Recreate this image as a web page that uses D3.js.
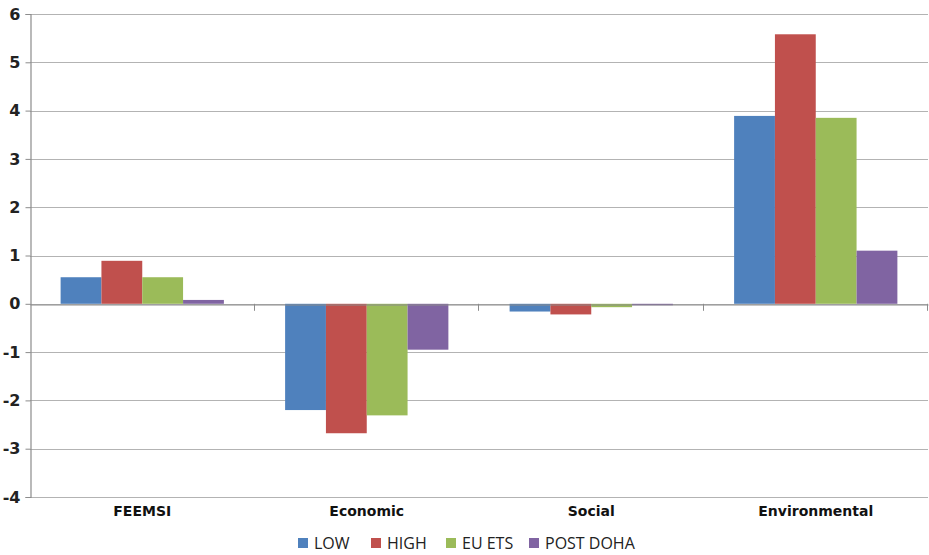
<!DOCTYPE html>
<meta charset="utf-8">
<style>
body { margin: 0; background: #fff; }
svg { display: block; }
.ytick text { font: bold 16px "DejaVu Sans", sans-serif; fill: #222; }
.cat text { font: bold 14px "DejaVu Sans", sans-serif; fill: #111; }
.legend text { font: 16px "Open Sans", sans-serif; fill: #222; }
</style>
<html>
  <head>
    <script src="https://cdn.jsdelivr.net/npm/d3@7"></script>
  </head>
  <body>
    <script>
var categories = ["FEEMSI", "Economic", "Social", "Environmental"];
var seriesNames = ["LOW", "HIGH", "EU ETS", "POST DOHA"];
var low      = [0.55, -2.2, -0.16, 3.89];
var high     = [0.89, -2.68, -0.22, 5.58];
var euEts    = [0.55, -2.31, -0.07, 3.85];
var postDoha = [0.08, -0.95, -0.03, 1.10];
var yTicks = [-4, -3, -2, -1, 0, 1, 2, 3, 4, 5, 6];
var colors = ["#4f81bd", "#c0504d", "#9bbb59", "#8064a2"];

var seriesValues = [low, high, euEts, postDoha];

// plot area (window.top is reserved, so not "top")
var width = 929, height = 555
  , plotL = 30, plotR = 928, plotT = 14, plotB = 497;

var svg = d3.select("body").append("svg")
    .attr("width", width)
    .attr("height", height);

var x = d3.scaleBand().domain(categories).range([plotL, plotR]);
var y = d3.scaleLinear().domain([-4, 6]).range([plotB, plotT]);

// bars sit in the middle of each band, 150% gap like excel
var bw = x.bandwidth() / 5.5;
var inner = d3.scaleBand().domain(seriesNames)
    .range([bw * 0.75, bw * 4.75]);

// gridlines
svg.append("g").selectAll("line")
    .data(yTicks)
  .enter().append("line")
    .attr("x1", plotL).attr("x2", plotR)
    .attr("y1", function(d) { return Math.round(y(d)) + 0.5; })
    .attr("y2", function(d) { return Math.round(y(d)) + 0.5; })
    .attr("stroke", "#b3b3b3")
    .attr("stroke-width", 1.2);

// bars
var groups = svg.append("g").selectAll("g")
    .data(seriesNames)
  .enter().append("g")
    .attr("fill", function(d, i) { return colors[i]; });

groups.selectAll("rect")
    .data(function(d, i) {
      return categories.map(function(c, j) {
        return { cat: c, s: d, v: seriesValues[i][j] };
      });
    })
  .enter().append("rect")
    .attr("x", function(d) { return x(d.cat) + inner(d.s); })
    .attr("width", inner.bandwidth())
    .attr("y", function(d) { return y(Math.max(0, d.v)); })
    .attr("height", function(d) { return Math.abs(y(d.v) - y(0)); });

// zero axis with category dividers
var xAxis = d3.axisBottom(x).tickSize(0).tickFormat("");
svg.append("g")
    .attr("transform", "translate(0," + (Math.round(y(0)) + 0.5) + ")")
    .call(xAxis)
    .call(function(g) { g.select(".domain").attr("stroke", "#8c8c8c").attr("stroke-width", 1.2); });

var bounds = categories.map(function(c) { return x(c) + x.bandwidth(); });
svg.append("g").selectAll("line")
    .data(bounds)
  .enter().append("line")
    .attr("x1", function(d) { return Math.round(d) - 0.5; })
    .attr("x2", function(d) { return Math.round(d) - 0.5; })
    .attr("y1", y(0)).attr("y2", y(0) + 7)
    .attr("stroke", "#8c8c8c");

// y axis, plain hyphen for negatives like the original
var yAxis = d3.axisLeft(y).tickValues(yTicks).tickSize(5).tickPadding(5)
    .tickFormat(function(d) { return String(d); });
svg.append("g")
    .attr("class", "ytick")
    .attr("transform", "translate(" + (plotL + 0.5) + ",0)")
    .call(yAxis)
    .call(function(g) {
      g.select(".domain").attr("stroke", "#8c8c8c").attr("stroke-width", 1.2);
      g.selectAll(".tick line").attr("stroke", "#8c8c8c");
    })
    .attr("font-family", null).attr("font-size", null);

// category labels
svg.append("g").attr("class", "cat").selectAll("text")
    .data(categories)
  .enter().append("text")
    .attr("x", function(d) { return x(d) + x.bandwidth() / 2; })
    .attr("y", 516)
    .attr("text-anchor", "middle")
    .text(function(d) { return d; });

// legend
var legendX = [298, 371, 446, 529];
var legend = svg.append("g").attr("class", "legend").selectAll("g")
    .data(seriesNames)
  .enter().append("g")
    .attr("transform", function(d, i) { return "translate(" + legendX[i] + ",538)"; });

legend.append("rect")
    .attr("width", 10).attr("height", 10)
    .attr("fill", function(d, i) { return colors[i]; });

legend.append("text")
    .attr("x", 16).attr("y", 11)
    .text(function(d) { return d; });
    </script>
  </body>
</html>
